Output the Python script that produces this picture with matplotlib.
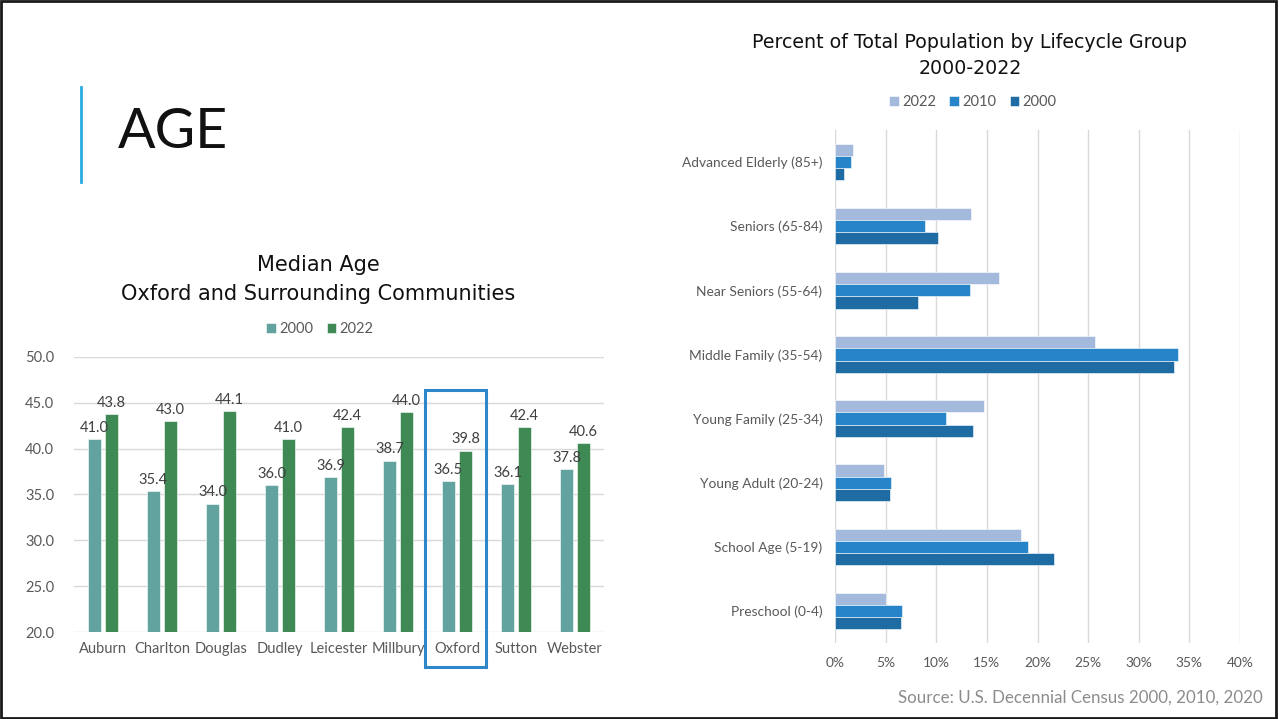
import matplotlib
matplotlib.use("Agg")
import matplotlib.pyplot as plt
from matplotlib.patches import Rectangle
from matplotlib.lines import Line2D
import numpy as np

plt.rcParams['font.family'] = ['Lato', 'DejaVu Sans']
TITLE_FONT = ['DejaVu Sans']

# Median age by town
towns = ["Auburn", "Charlton", "Douglas", "Dudley", "Leicester",
         "Millbury", "Oxford", "Sutton", "Webster"]
median_2000 = [41.0, 35.4, 34.0, 36.0, 36.9, 38.7, 36.5, 36.1, 37.8]
median_2022 = [43.8, 43.0, 44.1, 41.0, 42.4, 44.0, 39.8, 42.4, 40.6]
age_ticks = [20, 25, 30, 35, 40, 45, 50]

# Share of population by lifecycle group (%)
groups = ["Advanced Elderly (85+)", "Seniors (65-84)", "Near Seniors (55-64)",
          "Middle Family (35-54)", "Young Family (25-34)", "Young Adult (20-24)",
          "School Age (5-19)", "Preschool (0-4)"]
share_2022 = [1.8, 13.4, 16.2, 25.7, 14.7, 4.8, 18.4, 5.0]
share_2010 = [1.6, 8.9, 13.3, 33.9, 11.0, 5.5, 19.1, 6.6]
share_2000 = [0.9, 10.2, 8.2, 33.5, 13.6, 5.4, 21.6, 6.5]
pct_ticks = [0, 5, 10, 15, 20, 25, 30, 35, 40]

C_TEAL = "#62A39F"
C_GREEN = "#3E8954"
C_LIGHT = "#A3BADD"
C_MID = "#2784C8"
C_DARK = "#1F6BA4"
GRID = "#D9D9D9"
TXT = "#595959"

W, H = 1279, 719
fig = plt.figure(figsize=(W / 100, H / 100), dpi=100)


def fx(px):
    return px / W


def fy(py):
    return 1 - py / H


# Frame around the slide
fig.add_artist(Rectangle((0.001, 0.002), 0.997, 0.996, transform=fig.transFigure,
                         fill=False, edgecolor="#1A1A1A", linewidth=2))

# Section heading
fig.add_artist(Line2D([fx(81), fx(81)], [fy(87), fy(182)], transform=fig.transFigure,
                      color="#29ABE2", linewidth=2))
fig.text(fx(118), fy(133), "AGE", fontsize=40, color="#111111", va="center", ha="left")

# ---------------- Median age chart ----------------
ax1 = fig.add_axes([fx(73.5), fy(632), fx(604.5) - fx(73.5), fy(357) - fy(632)])
x = np.arange(len(towns))
bw = 0.22
off = 0.145
b1 = ax1.bar(x - off, median_2000, bw, color=C_TEAL, edgecolor="white", linewidth=0.4,
             label="2000", zorder=3)
b2 = ax1.bar(x + off, median_2022, bw, color=C_GREEN, edgecolor="white", linewidth=0.4,
             label="2022", zorder=3)
for bars, vals in ((b1, median_2000), (b2, median_2022)):
    for rect, v in zip(bars, vals):
        ax1.annotate(f"{v:.1f}", (rect.get_x() + rect.get_width() / 2, v),
                     xytext=(0, 3), textcoords="offset points", ha="center", va="bottom",
                     fontsize=10.5, color="#404040", zorder=4)
ax1.set_ylim(age_ticks[0], age_ticks[-1])
ax1.set_xlim(-0.5, len(towns) - 0.5)
ax1.set_yticks(age_ticks)
ax1.set_yticklabels([f"{t:.1f}" for t in age_ticks])
ax1.set_xticks(x)
ax1.set_xticklabels(towns)
ax1.yaxis.grid(True, color=GRID, linewidth=1, zorder=0)
ax1.set_axisbelow(True)
for s in ax1.spines.values():
    s.set_visible(False)
ax1.tick_params(axis="both", length=0, labelsize=10.5, colors=TXT)
ax1.tick_params(axis="x", pad=7)
ax1.tick_params(axis="y", pad=14)

# Highlight box around Oxford
oi = towns.index("Oxford")
ax1.add_patch(Rectangle((oi - 0.54, 16.2), 1.03, 46.4 - 16.2, fill=False,
                        edgecolor="#2E87C8", linewidth=2.2, clip_on=False, zorder=5))

fig.text(fx(318), fy(265), "Median Age", ha="center", va="center", fontsize=15,
         color="#111111", family=TITLE_FONT)
fig.text(fx(318), fy(294), "Oxford and Surrounding Communities", ha="center", va="center",
         fontsize=15, color="#111111", family=TITLE_FONT)
fig.legend(handles=[b1, b2], labels=["2000", "2022"], loc="center",
           bbox_to_anchor=(fx(320), fy(329)), ncol=2, frameon=False, fontsize=10.5,
           handlelength=0.65, handleheight=0.65, handletextpad=0.25, columnspacing=0.9,
           labelcolor=TXT)

# ---------------- Lifecycle chart ----------------
ax2 = fig.add_axes([fx(835), fy(643), fx(1240) - fx(835), fy(130) - fy(643)])
y = np.arange(len(groups))
bh = 0.19
r1 = ax2.barh(y - bh, share_2022, bh, color=C_LIGHT, edgecolor="white", linewidth=0.4,
              label="2022", zorder=3)
r2 = ax2.barh(y, share_2010, bh, color=C_MID, edgecolor="white", linewidth=0.4,
              label="2010", zorder=3)
r3 = ax2.barh(y + bh, share_2000, bh, color=C_DARK, edgecolor="white", linewidth=0.4,
              label="2000", zorder=3)
ax2.set_ylim(len(groups) - 0.5, -0.5)
ax2.set_xlim(pct_ticks[0], pct_ticks[-1])
ax2.set_xticks(pct_ticks)
ax2.set_xticklabels([f"{t}%" for t in pct_ticks])
ax2.set_yticks(y)
ax2.set_yticklabels(groups)
ax2.xaxis.grid(True, color=GRID, linewidth=1, zorder=0)
ax2.set_axisbelow(True)
for s in ax2.spines.values():
    s.set_visible(False)
ax2.tick_params(axis="both", length=0, labelsize=9.9, colors=TXT)
ax2.tick_params(axis="y", pad=9)
ax2.tick_params(axis="x", pad=10)

fig.text(fx(970), fy(43), "Percent of Total Population by Lifecycle Group", ha="center",
         va="center", fontsize=13.7, color="#111111", family=TITLE_FONT)
fig.text(fx(970), fy(68), "2000-2022", ha="center", va="center", fontsize=13.7,
         color="#111111", family=TITLE_FONT)
fig.legend(handles=[r1, r2, r3], labels=["2022", "2010", "2000"], loc="center",
           bbox_to_anchor=(fx(973), fy(102)), ncol=3, frameon=False, fontsize=10.5,
           handlelength=0.65, handleheight=0.65, handletextpad=0.25, columnspacing=0.9,
           labelcolor=TXT)

fig.text(fx(1263), fy(698), "Source: U.S. Decennial Census 2000, 2010, 2020", ha="right",
         va="center", fontsize=12.2, color="#8C8C8C")

fig.savefig("out.png", dpi=100)
